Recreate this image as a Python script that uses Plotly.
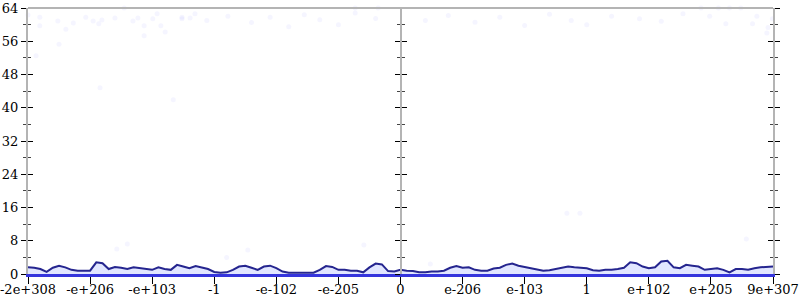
import numpy as np
import plotly.graph_objects as go

# x axis: 13 evenly spaced ticks
tick_pos = list(range(13))
tick_text = ["-2e+308", "-e+206", "-e+103", "-1", "-e-102", "-e-205", "0",
             "e-206", "e-103", "1", "e+102", "e+205", "9e+307"]

# running line values, sampled every 0.1 axis unit from 0 to 12
line_vals = [
    1.6, 1.5, 1.2, 0.5, 1.5, 2.0, 1.6, 1.0, 0.8, 0.8,
    0.8, 2.8, 2.6, 1.2, 1.7, 1.5, 1.2, 1.6, 1.4, 1.2,
    1.0, 1.6, 1.2, 1.0, 2.2, 1.8, 1.4, 1.9, 1.5, 1.2,
    0.5, 0.3, 0.4, 1.0, 1.8, 2.0, 1.5, 1.0, 1.8, 2.0,
    1.4, 0.6, 0.3, 0.3, 0.3, 0.3, 0.3, 1.0, 1.9, 1.7,
    1.0, 1.0, 0.8, 0.8, 0.4, 1.6, 2.5, 2.3, 0.7, 0.6,
    1.0, 0.8, 0.7, 0.4, 0.4, 0.6, 0.6, 0.8, 1.5, 1.9,
    1.5, 1.6, 1.0, 0.8, 0.8, 1.3, 1.5, 2.2, 2.5, 2.0,
    1.7, 1.3, 1.0, 0.8, 0.9, 1.2, 1.6, 1.8, 1.6, 1.5,
    1.4, 0.9, 0.8, 1.0, 1.0, 1.2, 1.5, 2.8, 2.6, 1.8,
    1.4, 1.6, 3.0, 3.2, 1.6, 1.4, 2.2, 2.0, 1.8, 1.0,
    1.2, 1.4, 1.0, 0.4, 1.2, 1.2, 1.0, 1.4, 1.6, 1.7,
    1.8,
]
line_x = np.round(np.arange(len(line_vals)) * 0.1, 2)

# faint scattered samples
pts_x = [0.0, 0.19, 0.19, 0.13, 0.48, 0.5, 0.61, 0.73, 0.93, 1.05, 1.14, 1.19,
         1.16, 1.4, 1.55, 1.69, 1.77, 1.87, 1.87, 2.01, 2.08, 2.14, 2.21, 2.48,
         2.48, 2.61, 2.69, 2.34, 1.6, 1.43, 2.88, 3.22, 3.6, 3.9, 4.2, 4.45,
         4.7, 5.0, 5.27, 5.6, 5.27, 5.64, 6.4, 6.77, 7.2, 7.6, 8.0, 8.4, 8.75,
         9.0, 9.4, 9.85, 10.2, 10.55, 10.84, 10.98, 11.12, 11.24, 11.3, 11.48,
         11.67, 11.74, 11.9, 11.92, 11.99, 8.68, 8.89, 6.48, 3.2, 3.54, 5.41,
         11.57]
pts_y = [62.3, 61.8, 59.7, 52.5, 60.9, 55.3, 58.9, 60.4, 61.8, 60.9, 60.2,
         61.1, 44.8, 61.6, 64.0, 60.9, 61.6, 59.7, 57.3, 61.4, 62.6, 59.7, 58.2,
         61.8, 61.4, 61.6, 62.6, 41.9, 7.2, 6.0, 61.0, 62.0, 60.5, 61.8, 59.5,
         62.4, 61.2, 60.0, 62.8, 61.5, 64.0, 64.0, 61.0, 62.2, 60.6, 61.8, 59.8,
         62.5, 61.0, 60.0, 62.0, 61.4, 60.8, 62.6, 64.0, 62.0, 64.0, 60.2, 64.0,
         64.0, 60.2, 62.0, 58.0, 59.3, 61.4, 14.6, 14.6, 2.4, 4.0, 5.8, 7.0,
         8.4]

axis_gray = "#b4b4b4"
font = dict(family="DejaVu Serif", size=13, color="black")

fig = go.Figure()
fig.add_trace(go.Scatter(
    x=pts_x, y=pts_y, mode="markers",
    marker=dict(size=5, color="rgba(110,120,255,0.07)"),
    hoverinfo="skip", showlegend=False, cliponaxis=False))
fig.add_trace(go.Scatter(
    x=line_x, y=line_vals, mode="lines",
    line=dict(color="#25258f", width=2),
    fill="tozeroy", fillcolor="rgba(120,140,255,0.22)",
    showlegend=False))

ymajor = dict(range=[0, 64], tickvals=list(range(0, 65, 8)),
              showgrid=False, zeroline=False, fixedrange=True, automargin=False)


def yax(side, ticks, labels, anchor=None, position=None, overlay=True):
    d = dict(ymajor)
    d.update(side=side, ticks=ticks, ticklen=5, tickwidth=1, tickcolor="black",
             showticklabels=labels, showline=True, linecolor=axis_gray,
             linewidth=2, tickfont=font, ticklabeloverflow="allow")
    d["minor"] = dict(dtick=4, tick0=0, ticklen=3, tickcolor="#444", ticks=ticks)
    if overlay:
        d["overlaying"] = "y"
    if anchor:
        d["anchor"] = anchor
    if position is not None:
        d["position"] = position
    return d


fig.update_layout(
    width=800, height=300,
    margin=dict(l=28, r=27, t=8, b=26),
    paper_bgcolor="white", plot_bgcolor="white",
    font=font,
    xaxis=dict(range=[0, 12], tickvals=tick_pos, ticktext=tick_text,
               ticks="outside", ticklen=7, tickcolor="black", tickwidth=1,
               showline=True, linecolor="#3535dd", linewidth=3,
               showgrid=False, zeroline=False, tickfont=font, fixedrange=True,
               automargin=False, ticklabeloverflow="allow",
               ticklabelstandoff=-6),
    yaxis=yax("left", "outside", True, overlay=False),
    yaxis2=yax("left", "inside", False, anchor="x"),
    yaxis3=yax("left", "outside", False, anchor="free", position=0.5),
    yaxis4=yax("left", "inside", False, anchor="free", position=0.5),
    yaxis5=yax("right", "outside", False, anchor="x"),
    yaxis6=yax("right", "inside", False, anchor="x"),
    shapes=[dict(type="line", xref="paper", yref="paper", x0=0, x1=1, y0=1, y1=1,
                 line=dict(color=axis_gray, width=2))],
)

# dummy traces so overlaying axes render
for ax in ["y2", "y3", "y4", "y5", "y6"]:
    fig.add_trace(go.Scatter(x=[None], y=[None], yaxis=ax, showlegend=False,
                             hoverinfo="skip"))

fig.write_html("out.html")
